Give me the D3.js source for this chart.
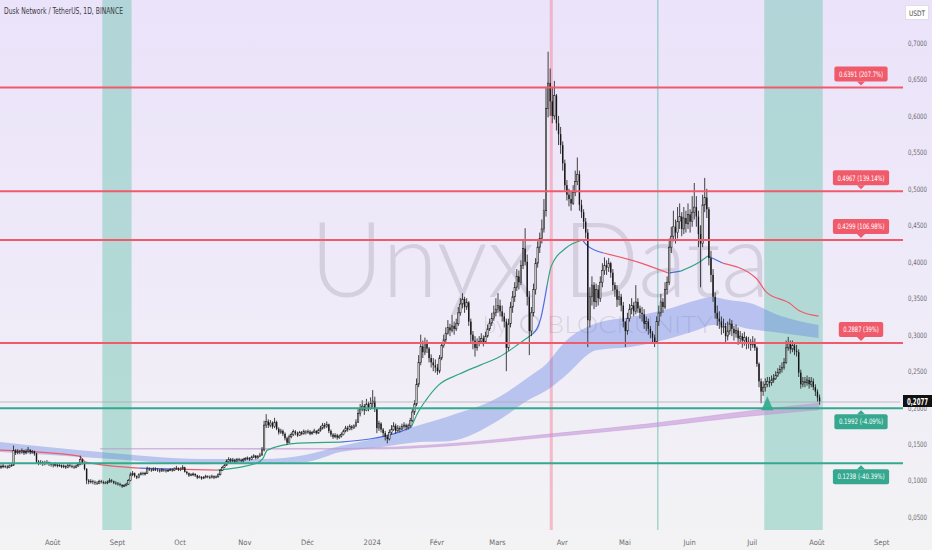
<!DOCTYPE html>
<html><head><meta charset="utf-8">
<script src="https://cdn.jsdelivr.net/npm/d3@7"></script>
<style>body{margin:0;background:#f3f3f4;}svg{display:block}</style>
</head><body><svg id="c" width="932" height="550"></svg>
<script>
// ---------- DATA ----------
const title = "Dusk Network / TetherUS, 1D, BINANCE";
const firstOpen = 0.118;
// daily closes / highs / lows per month (open = previous close)
const close2307 = [0.119,0.120,0.119,0.118,0.120,0.121,0.141,0.138,0.140,0.139,0.141,0.138,0.140,0.142,0.139,0.140,0.137,0.126,0.124,0.125,0.123,0.124,0.125,0.123,0.122];
const high2307  = [0.122,0.123,0.121,0.121,0.122,0.124,0.148,0.143,0.143,0.142,0.144,0.142,0.143,0.146,0.143,0.142,0.141,0.138,0.128,0.128,0.127,0.127,0.128,0.126,0.125];
const low2307   = [0.116,0.117,0.117,0.116,0.117,0.119,0.120,0.135,0.136,0.136,0.137,0.135,0.136,0.138,0.136,0.137,0.134,0.123,0.121,0.122,0.120,0.121,0.122,0.120,0.119];
const close2308 = [0.121,0.122,0.120,0.121,0.119,0.120,0.118,0.121,0.120,0.119,0.118,0.120,0.122,0.129,0.124,0.116,0.100,0.098,0.099,0.098,0.097,0.096,0.099,0.098,0.097,0.097,0.098,0.100,0.099,0.097,0.096];
const high2308  = [0.124,0.125,0.123,0.123,0.122,0.122,0.121,0.123,0.123,0.122,0.121,0.122,0.125,0.134,0.130,0.125,0.117,0.102,0.102,0.101,0.100,0.099,0.101,0.101,0.100,0.099,0.100,0.103,0.102,0.100,0.099];
const low2308   = [0.118,0.119,0.118,0.119,0.117,0.117,0.116,0.117,0.118,0.117,0.116,0.117,0.119,0.121,0.122,0.114,0.095,0.095,0.096,0.095,0.094,0.094,0.095,0.096,0.095,0.095,0.095,0.097,0.097,0.095,0.094];
const close2309 = [0.095,0.094,0.092,0.093,0.095,0.100,0.108,0.110,0.106,0.104,0.108,0.110,0.109,0.110,0.116,0.115,0.114,0.116,0.115,0.114,0.113,0.115,0.114,0.113,0.114,0.115,0.114,0.116,0.117,0.115];
const high2309  = [0.098,0.097,0.095,0.095,0.097,0.102,0.111,0.113,0.111,0.107,0.110,0.112,0.112,0.112,0.119,0.118,0.117,0.118,0.118,0.117,0.116,0.117,0.116,0.116,0.116,0.117,0.117,0.118,0.120,0.118];
const low2309   = [0.093,0.092,0.090,0.091,0.092,0.094,0.099,0.106,0.104,0.102,0.103,0.107,0.107,0.107,0.109,0.113,0.112,0.113,0.113,0.112,0.111,0.112,0.112,0.111,0.112,0.113,0.112,0.113,0.115,0.113];
const close2310 = [0.116,0.118,0.112,0.110,0.107,0.108,0.109,0.107,0.104,0.105,0.103,0.104,0.106,0.105,0.104,0.106,0.104,0.105,0.108,0.114,0.118,0.121,0.126,0.129,0.127,0.128,0.126,0.129,0.128,0.127,0.129];
const high2310  = [0.118,0.121,0.119,0.113,0.111,0.110,0.111,0.110,0.108,0.107,0.106,0.106,0.108,0.107,0.107,0.108,0.107,0.107,0.110,0.116,0.120,0.123,0.129,0.132,0.131,0.131,0.130,0.131,0.131,0.130,0.131];
const low2310   = [0.113,0.115,0.111,0.108,0.105,0.106,0.106,0.105,0.102,0.103,0.101,0.102,0.103,0.103,0.102,0.103,0.102,0.103,0.104,0.107,0.113,0.117,0.120,0.124,0.124,0.125,0.124,0.125,0.126,0.125,0.125];
const close2311 = [0.130,0.131,0.129,0.132,0.134,0.131,0.133,0.135,0.142,0.176,0.181,0.176,0.179,0.174,0.180,0.171,0.166,0.168,0.164,0.158,0.152,0.160,0.163,0.167,0.165,0.162,0.166,0.164,0.167,0.166];
const high2311  = [0.132,0.133,0.132,0.134,0.136,0.135,0.135,0.138,0.146,0.182,0.191,0.184,0.183,0.181,0.186,0.182,0.173,0.171,0.170,0.166,0.160,0.163,0.166,0.170,0.169,0.167,0.168,0.168,0.170,0.169];
const low2311   = [0.127,0.128,0.127,0.128,0.131,0.129,0.130,0.132,0.134,0.140,0.172,0.172,0.173,0.171,0.172,0.169,0.163,0.164,0.161,0.155,0.149,0.151,0.158,0.161,0.162,0.160,0.161,0.162,0.163,0.163];
const close2312 = [0.167,0.164,0.166,0.168,0.165,0.169,0.172,0.176,0.174,0.177,0.168,0.163,0.160,0.162,0.159,0.161,0.163,0.168,0.172,0.170,0.174,0.172,0.175,0.180,0.192,0.198,0.202,0.196,0.205,0.199,0.206];
const high2312  = [0.170,0.169,0.168,0.171,0.169,0.171,0.175,0.179,0.179,0.181,0.178,0.170,0.165,0.165,0.164,0.163,0.166,0.170,0.175,0.175,0.177,0.176,0.177,0.184,0.198,0.205,0.210,0.205,0.212,0.208,0.214];
const low2312   = [0.164,0.162,0.163,0.165,0.163,0.164,0.167,0.170,0.171,0.172,0.165,0.160,0.157,0.158,0.156,0.157,0.159,0.162,0.166,0.167,0.169,0.169,0.171,0.173,0.179,0.188,0.195,0.190,0.195,0.195,0.197];
const close2401 = [0.209,0.198,0.172,0.178,0.170,0.165,0.160,0.157,0.166,0.170,0.175,0.168,0.172,0.170,0.174,0.176,0.173,0.175,0.182,0.194,0.205,0.232,0.262,0.284,0.276,0.288,0.281,0.268,0.262,0.258,0.255];
const high2401  = [0.224,0.215,0.200,0.182,0.180,0.172,0.168,0.163,0.170,0.176,0.180,0.178,0.176,0.175,0.178,0.180,0.178,0.178,0.186,0.198,0.210,0.240,0.272,0.300,0.292,0.296,0.293,0.283,0.273,0.268,0.266];
const low2401   = [0.200,0.194,0.165,0.168,0.166,0.160,0.155,0.151,0.155,0.163,0.168,0.164,0.167,0.166,0.169,0.171,0.169,0.170,0.173,0.180,0.190,0.202,0.228,0.258,0.268,0.272,0.275,0.262,0.255,0.250,0.248];
const close2402 = [0.250,0.268,0.285,0.293,0.302,0.310,0.306,0.312,0.308,0.315,0.330,0.342,0.349,0.338,0.344,0.318,0.300,0.292,0.282,0.288,0.291,0.295,0.290,0.298,0.308,0.316,0.322,0.330,0.335];
const high2402  = [0.260,0.272,0.290,0.300,0.310,0.320,0.315,0.327,0.318,0.322,0.338,0.350,0.357,0.352,0.350,0.346,0.322,0.305,0.298,0.295,0.298,0.302,0.299,0.304,0.314,0.322,0.330,0.340,0.350];
const low2402   = [0.245,0.247,0.265,0.282,0.290,0.300,0.298,0.303,0.300,0.305,0.312,0.326,0.336,0.330,0.334,0.312,0.290,0.280,0.270,0.278,0.284,0.288,0.284,0.288,0.296,0.305,0.312,0.319,0.325];
const close2403 = [0.340,0.332,0.325,0.318,0.282,0.315,0.338,0.352,0.365,0.380,0.372,0.395,0.418,0.400,0.352,0.305,0.330,0.362,0.398,0.420,0.432,0.445,0.470,0.610,0.645,0.620,0.600,0.628,0.590,0.575,0.560];
const high2403  = [0.357,0.348,0.340,0.330,0.322,0.322,0.345,0.360,0.372,0.390,0.388,0.402,0.430,0.446,0.410,0.360,0.338,0.370,0.405,0.428,0.440,0.458,0.486,0.640,0.688,0.665,0.640,0.648,0.630,0.600,0.585];
const low2403   = [0.330,0.325,0.318,0.310,0.250,0.278,0.310,0.330,0.345,0.360,0.362,0.368,0.390,0.395,0.340,0.272,0.298,0.325,0.355,0.392,0.412,0.425,0.440,0.462,0.598,0.600,0.590,0.595,0.580,0.560,0.548];
const close2404 = [0.535,0.505,0.492,0.486,0.480,0.495,0.510,0.520,0.478,0.468,0.455,0.440,0.320,0.352,0.368,0.345,0.362,0.350,0.372,0.388,0.395,0.392,0.398,0.385,0.368,0.362,0.348,0.352,0.340,0.318];
const high2404  = [0.565,0.540,0.512,0.500,0.496,0.505,0.525,0.543,0.525,0.485,0.472,0.460,0.445,0.365,0.380,0.372,0.370,0.368,0.380,0.398,0.406,0.402,0.405,0.400,0.390,0.372,0.368,0.360,0.356,0.345];
const low2404   = [0.525,0.498,0.484,0.476,0.470,0.478,0.490,0.505,0.470,0.460,0.445,0.432,0.283,0.310,0.340,0.335,0.338,0.340,0.345,0.365,0.382,0.382,0.386,0.378,0.360,0.352,0.338,0.340,0.332,0.310];
const close2405 = [0.305,0.322,0.335,0.340,0.332,0.345,0.336,0.330,0.328,0.315,0.318,0.308,0.302,0.296,0.290,0.318,0.330,0.345,0.338,0.362,0.372,0.420,0.435,0.448,0.440,0.455,0.462,0.445,0.460,0.452,0.465];
const high2405  = [0.318,0.330,0.342,0.350,0.345,0.368,0.350,0.340,0.338,0.335,0.325,0.322,0.312,0.305,0.300,0.325,0.340,0.356,0.350,0.372,0.380,0.432,0.448,0.470,0.458,0.475,0.480,0.468,0.475,0.470,0.480];
const low2405   = [0.283,0.300,0.318,0.328,0.325,0.328,0.330,0.322,0.318,0.308,0.305,0.300,0.295,0.288,0.283,0.288,0.312,0.325,0.330,0.335,0.355,0.368,0.412,0.428,0.425,0.432,0.445,0.435,0.438,0.440,0.445];
const close2406 = [0.455,0.468,0.475,0.462,0.438,0.425,0.478,0.488,0.472,0.405,0.382,0.352,0.330,0.322,0.318,0.310,0.312,0.298,0.305,0.315,0.308,0.302,0.306,0.295,0.298,0.292,0.296,0.288,0.290,0.286];
const high2406  = [0.472,0.490,0.508,0.490,0.470,0.450,0.492,0.515,0.500,0.475,0.415,0.390,0.358,0.340,0.332,0.325,0.322,0.316,0.318,0.322,0.320,0.312,0.314,0.310,0.305,0.302,0.304,0.298,0.297,0.294];
const low2406   = [0.440,0.448,0.458,0.448,0.420,0.365,0.420,0.468,0.460,0.395,0.372,0.345,0.322,0.312,0.308,0.300,0.302,0.290,0.292,0.300,0.298,0.292,0.296,0.286,0.288,0.282,0.285,0.280,0.281,0.278];
const close2407 = [0.290,0.282,0.260,0.236,0.222,0.228,0.232,0.236,0.234,0.238,0.240,0.244,0.248,0.252,0.255,0.262,0.282,0.288,0.280,0.285,0.278,0.276,0.248,0.232,0.236,0.234,0.238,0.232,0.236,0.228,0.222];
const high2407  = [0.298,0.295,0.284,0.262,0.240,0.236,0.240,0.242,0.242,0.244,0.246,0.250,0.254,0.258,0.262,0.268,0.292,0.297,0.292,0.292,0.289,0.286,0.280,0.252,0.242,0.242,0.244,0.242,0.242,0.240,0.232];
const low2407   = [0.282,0.278,0.256,0.228,0.206,0.216,0.222,0.228,0.228,0.230,0.234,0.238,0.242,0.246,0.248,0.252,0.260,0.278,0.274,0.276,0.272,0.270,0.242,0.226,0.228,0.228,0.230,0.226,0.228,0.224,0.216];
const close2408 = [0.214,0.2077];
const high2408  = [0.225,0.218];
const low2408   = [0.208,0.204];

const monthStarts = ["2023-07-07","2023-08-01","2023-09-01","2023-10-01","2023-11-01","2023-12-01","2024-01-01","2024-02-01","2024-03-01","2024-04-01","2024-05-01","2024-06-01","2024-07-01","2024-08-01"];
const monthCloses = [close2307,close2308,close2309,close2310,close2311,close2312,close2401,close2402,close2403,close2404,close2405,close2406,close2407,close2408];
const monthHighs  = [high2307,high2308,high2309,high2310,high2311,high2312,high2401,high2402,high2403,high2404,high2405,high2406,high2407,high2408];
const monthLows   = [low2307,low2308,low2309,low2310,low2311,low2312,low2401,low2402,low2403,low2404,low2405,low2406,low2407,low2408];

// trend moving average (colour per segment)
const maDates  = ["2023-07-07","2023-08-14","2023-08-17","2023-09-12","2023-09-28","2023-10-19","2023-11-07","2023-11-10","2023-11-12","2023-11-27","2023-12-17","2024-01-14","2024-01-20","2024-01-23","2024-01-27","2024-02-02","2024-02-12","2024-02-22","2024-03-02","2024-03-12","2024-03-18","2024-03-22","2024-03-25","2024-03-27","2024-04-03","2024-04-11","2024-04-13","2024-04-21","2024-05-09","2024-05-22","2024-05-28","2024-06-06","2024-06-10","2024-06-17","2024-07-03","2024-07-08","2024-07-19","2024-07-24","2024-08-02"];
const maValues = [0.1417,0.1335,0.1252,0.1170,0.1156,0.1143,0.1239,0.1307,0.1417,0.1513,0.1527,0.1664,0.1733,0.1925,0.2103,0.2309,0.2460,0.2583,0.2693,0.2885,0.3008,0.3228,0.3680,0.3940,0.4188,0.4298,0.4229,0.4120,0.3982,0.3845,0.3872,0.3996,0.4078,0.3982,0.3777,0.3584,0.3433,0.3324,0.3255];
const maColors = ["r","r","r","b","r","g","g","g","g","g","b","b","g","g","g","g","g","g","g","g","b","b","g","g","g","b","b","r","r","b","g","g","b","r","r","r","r","r","r"];

// blue cloud
const cloudDates = ["2023-07-07","2023-08-24","2023-10-12","2023-11-10","2023-11-30","2023-12-17","2024-01-05","2024-01-24","2024-02-07","2024-03-02","2024-03-16","2024-03-25","2024-04-02","2024-04-18","2024-05-04","2024-05-20","2024-06-05","2024-06-12","2024-06-20","2024-06-30","2024-07-15","2024-08-02"];
const cloudUpper = [0.1527,0.1390,0.1294,0.1294,0.1349,0.1472,0.1595,0.1760,0.1883,0.2144,0.2418,0.2610,0.2885,0.3159,0.3241,0.3337,0.3475,0.3516,0.3475,0.3433,0.3255,0.3132];
const cloudLower = [0.1390,0.1307,0.1225,0.1239,0.1252,0.1390,0.1458,0.1527,0.1540,0.1829,0.2103,0.2240,0.2418,0.2789,0.2830,0.2926,0.3063,0.3132,0.3132,0.3077,0.3022,0.2953];

// purple ribbon
const ribbonDates = ["2023-08-24","2023-12-12","2024-01-05","2024-02-07","2024-03-27","2024-05-15","2024-06-27","2024-08-02"];
const ribbonUpper = [0.1437,0.1440,0.1452,0.1505,0.1640,0.1785,0.1945,0.2060];
const ribbonLower = [0.1432,0.1430,0.1432,0.1475,0.1600,0.1735,0.1875,0.1970];

// levels
const resistLevels = [0.6391,0.4967,0.4299,0.2887];
const resistLabels = ["0.6391 (207.7%)","0.4967 (139.14%)","0.4299 (106.98%)","0.2887 (39%)"];
const supportLevels = [0.1992,0.1238];
const supportLabels = ["0.1992 (-4.09%)","0.1238 (-40.39%)"];
const lastPrice = 0.2077;
const lastPriceLabel = "0,2077";

// highlighted periods
const bandStarts = ["2023-08-25","2024-07-07"];
const bandEnds   = ["2023-09-08","2024-08-04"];
const pinkLineDate = "2024-03-27";
const tealLineDate = "2024-05-17";
const signalDate = "2024-07-08";

// axes
const xTickDates  = ["2023-08-01","2023-09-01","2023-10-01","2023-11-01","2023-12-01","2024-01-01","2024-02-01","2024-03-01","2024-04-01","2024-05-01","2024-06-01","2024-07-01","2024-08-01","2024-09-01"];
const xTickLabels = ["Août","Sept","Oct","Nov","Déc","2024","Févr","Mars","Avr","Mai","Juin","Juil","Août","Sept"];
const yTicks = [0.05,0.10,0.15,0.20,0.25,0.30,0.35,0.40,0.45,0.50,0.55,0.60,0.65,0.70];

// ---------- DRAW ----------
const W = 932, H = 550, PR = 900, PB = 530;
const FONT = "'Liberation Sans Narrow','DejaVu Sans Condensed',Roboto,sans-serif";
const parse = d3.utcParse("%Y-%m-%d");
const svg = d3.select("#c");
const defs = svg.append("defs");
const g0 = defs.append("linearGradient").attr("id","bg").attr("x1",0).attr("y1",0).attr("x2",0).attr("y2",1);
g0.append("stop").attr("offset","0").attr("stop-color","#ebe3fa");
g0.append("stop").attr("offset","0.55").attr("stop-color","#efebf8");
g0.append("stop").attr("offset","1").attr("stop-color","#f3f3f4");
defs.append("clipPath").attr("id","plot").append("rect").attr("width",PR).attr("height",PB);
svg.append("rect").attr("width",W).attr("height",H).attr("fill","url(#bg)");

const x = d3.scaleUtc().domain([parse("2023-07-07"), parse("2024-09-10")]).range([0, PR]);
const y = d3.scaleLinear().domain([0.05, 0.70]).range([517, 43]);

const plot = svg.append("g").attr("clip-path","url(#plot)");

// bands
bandStarts.forEach((s,i)=>{
  plot.append("rect").attr("x",x(parse(s))).attr("y",0)
    .attr("width",x(parse(bandEnds[i]))-x(parse(s))).attr("height",PB)
    .attr("fill","rgba(120,200,182,0.5)");
});
plot.append("line").attr("x1",x(parse(pinkLineDate))).attr("x2",x(parse(pinkLineDate)))
  .attr("y1",0).attr("y2",PB).attr("stroke","rgba(245,140,160,0.55)").attr("stroke-width",3);
plot.append("line").attr("x1",x(parse(tealLineDate))).attr("x2",x(parse(tealLineDate)))
  .attr("y1",0).attr("y2",PB).attr("stroke","rgba(110,195,180,0.6)").attr("stroke-width",1.5);

// watermark
const wm = plot.append("g").attr("fill","rgba(120,115,135,0.22)").attr("font-family","Lato, 'Open Sans', sans-serif").attr("font-weight",300);
wm.append("text").attr("x",310).attr("y",297).attr("textLength",460).attr("lengthAdjust","spacingAndGlyphs")
  .attr("font-size",104).text("Unyx Data");
wm.append("text").attr("x",483).attr("y",333).attr("font-size",24).text("by");
wm.append("circle").attr("cx",530).attr("cy",324).attr("r",9).attr("fill","none").attr("stroke","rgba(120,115,135,0.22)").attr("stroke-width",2);
wm.append("text").attr("x",547).attr("y",333).attr("font-size",24).attr("textLength",166).attr("lengthAdjust","spacingAndGlyphs").text("BLOCKUNITY");

// cloud
const cloud = cloudDates.map((d,i)=>({d:parse(d),u:cloudUpper[i],l:cloudLower[i]}));
plot.append("path").datum(cloud)
  .attr("d", d3.area().curve(d3.curveMonotoneX).x(p=>x(p.d)).y0(p=>y(p.l)).y1(p=>y(p.u)))
  .attr("fill","rgba(95,125,225,0.38)");
// purple ribbon
const rib = ribbonDates.map((d,i)=>({d:parse(d),u:ribbonUpper[i],l:ribbonLower[i]}));
plot.append("path").datum(rib)
  .attr("d", d3.area().curve(d3.curveMonotoneX).x(p=>x(p.d)).y0(p=>y(p.l)).y1(p=>y(p.u)))
  .attr("fill","rgba(195,140,215,0.55)").attr("stroke","rgba(190,150,210,0.55)").attr("stroke-width",0.8);

// MA line, coloured runs
const maCol = {r:"#ef5b6b", g:"#2fa67e", b:"#4a6fe0"};
const ma = maDates.map((d,i)=>({d:parse(d),v:maValues[i],c:maColors[i]}));
const maLine = d3.line().curve(d3.curveMonotoneX).x(p=>x(p.d)).y(p=>y(p.v));
let run = [ma[0]];
for (let i=1;i<ma.length;i++){
  run.push(ma[i]);
  if (i===ma.length-1 || ma[i].c!==run[0].c){
    plot.append("path").datum(run).attr("d",maLine).attr("fill","none")
      .attr("stroke",maCol[run[0].c]).attr("stroke-width",1.2);
    run=[ma[i]];
  }
}

// candles
const candles = [];
monthStarts.forEach((ms,mi)=>{
  const s = parse(ms);
  monthCloses[mi].forEach((c,i)=>{
    const o = candles.length ? candles[candles.length-1].c : firstOpen;
    const h = Math.max(o,c,monthHighs[mi][i]||0);
    const l = Math.min(o,c,monthLows[mi][i]||9);
    candles.push({d:d3.utcDay.offset(s,i),o,h,l,c});
  });
});
const cg = plot.append("g");
cg.selectAll("line").data(candles).join("line")
  .attr("x1",p=>x(p.d)+1).attr("x2",p=>x(p.d)+1)
  .attr("y1",p=>y(p.h)).attr("y2",p=>y(p.l))
  .attr("stroke","#2e2e2e").attr("stroke-width",0.9);
cg.selectAll("rect").data(candles).join("rect")
  .attr("x",p=>x(p.d)+0.3).attr("width",1.4)
  .attr("y",p=>y(Math.max(p.o,p.c)))
  .attr("height",p=>Math.max(0.8,Math.abs(y(p.o)-y(p.c))))
  .attr("fill",p=>p.c>=p.o?"#e8e8ea":"#161616")
  .attr("stroke",p=>p.c>=p.o?"#1e1e1e":"none").attr("stroke-width",0.6);

// last price line
svg.append("line").attr("x1",0).attr("x2",PR).attr("y1",y(lastPrice)).attr("y2",y(lastPrice))
  .attr("stroke","#a9a6b0").attr("stroke-width",0.7);

// level lines + labels
function level(v,label,color,above){
  const yy = y(v);
  svg.append("line").attr("x1",0).attr("x2",903).attr("y1",yy).attr("y2",yy)
    .attr("stroke",color).attr("stroke-width",2);
  const cx = 861;
  const bg = svg.append("g");
  const tw = label.length*2.95;
  const t = svg.append("text").attr("x",cx-tw/2).attr("font-family",FONT).attr("font-size",7.5)
    .attr("fill","#fff").attr("textLength",tw).attr("lengthAdjust","spacingAndGlyphs").text(label);
  const bw = tw+9, bh = 15;
  const top = above ? yy-6-bh : yy+6;
  bg.append("rect").attr("x",cx-bw/2).attr("y",top).attr("width",bw).attr("height",bh)
    .attr("rx",2).attr("fill",color);
  const tri = above ? [[cx-4,top+bh],[cx+4,top+bh],[cx,top+bh+4]] : [[cx-4,top],[cx+4,top],[cx,top-4]];
  bg.append("path").attr("d",d3.line()(tri)+"Z").attr("fill",color);
  t.attr("y",top+bh/2+2.8);
}
resistLevels.forEach((v,i)=>level(v,resistLabels[i],"#ef5b6b",true));
supportLevels.forEach((v,i)=>level(v,supportLabels[i],"#35a88f",false));

// signal triangle
const sx = x(parse(signalDate))+1, sy = y(supportLevels[0])+2;
svg.append("path").attr("d",d3.line()([[sx-6,sy],[sx+6,sy],[sx,sy-14]])+"Z").attr("fill","#2fab8d").attr("opacity",0.9);

// y axis (right)
const fmt = d3.format(".4f");
const ya = svg.append("g").attr("transform",`translate(908,0)`)
  .call(d3.axisRight(y).tickValues(yTicks).tickSize(0).tickPadding(0).tickFormat(v=>fmt(v).replace(".",",")));
ya.select(".domain").remove();
ya.selectAll("text").attr("text-anchor","start").attr("font-family",FONT).attr("font-size",7.5)
  .attr("textLength",19).attr("lengthAdjust","spacingAndGlyphs").attr("fill","#6b6b70");

// current price tag
svg.append("rect").attr("x",903).attr("y",y(lastPrice)-7).attr("width",29).attr("height",12).attr("fill","#111");
svg.append("text").attr("x",907).attr("y",y(lastPrice)+2.5).attr("font-family",FONT)
  .attr("font-size",8).attr("font-weight","bold").attr("textLength",21).attr("lengthAdjust","spacingAndGlyphs")
  .attr("fill","#fff").text(lastPriceLabel);

// USDT box
svg.append("rect").attr("x",905.5).attr("y",5.5).attr("width",23).attr("height",14).attr("fill","#fff").attr("stroke","#e0dde6");
svg.append("text").attr("x",909).attr("y",15.5).attr("font-family",FONT).attr("font-size",7.5)
  .attr("textLength",16).attr("lengthAdjust","spacingAndGlyphs").attr("fill","#444").text("USDT");

// x axis
const xa = svg.append("g").attr("transform",`translate(0,${PB})`)
  .call(d3.axisBottom(x).tickValues(xTickDates.map(parse)).tickSize(0).tickPadding(10)
    .tickFormat((d,i)=>xTickLabels[i]));
xa.select(".domain").remove();
xa.selectAll("text").attr("font-family",FONT).attr("font-size",7.5).attr("fill","#6b6b70");

// title
svg.append("text").attr("x",4).attr("y",14).attr("font-family",FONT).attr("font-size",8.5)
  .attr("textLength",119).attr("lengthAdjust","spacingAndGlyphs").attr("fill","#3a3a40").text(title);
</script></body></html>
